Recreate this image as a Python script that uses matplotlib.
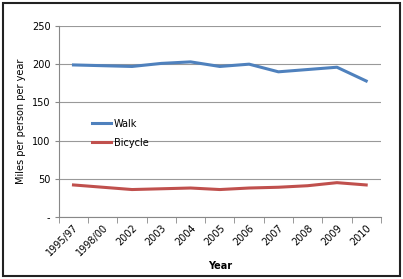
import matplotlib
matplotlib.use("Agg")
import matplotlib.pyplot as plt
from matplotlib.patches import Rectangle
from matplotlib.ticker import FixedLocator, NullFormatter

years = ["1995/97", "1998/00", "2002", "2003", "2004", "2005", "2006", "2007", "2008", "2009", "2010"]
walk = [199, 198, 197, 201, 203, 197, 200, 190, 193, 196, 178]
bicycle = [42, 39, 36, 37, 38, 36, 38, 39, 41, 45, 42]
yticks = [0, 50, 100, 150, 200, 250]
ytick_labels = ["-", "50", "100", "150", "200", "250"]

plt.rcParams['font.family'] = ['DejaVu Sans']
fig = plt.figure(figsize=(4.03, 2.79), dpi=100)
ax = fig.add_axes([0.146, 0.222, 0.799, 0.685])

x = list(range(len(years)))
ax.plot(x, walk, color="#4F81BD", lw=2.2, label="Walk")
ax.plot(x, bicycle, color="#C0504D", lw=2.2, label="Bicycle")

ax.set_xlim(-0.5, len(years) - 0.5)
ax.set_ylim(0, 250)
ax.set_yticks(yticks)
ax.set_yticklabels(ytick_labels, fontsize=7)
ax.set_xticks(x)
ax.set_xticklabels(years, rotation=45, ha="right", rotation_mode="anchor", fontsize=7)
ax.tick_params(axis="x", which="major", length=0, pad=4)
ax.xaxis.set_minor_locator(FixedLocator([i - 0.5 for i in range(len(years) + 1)]))
ax.xaxis.set_minor_formatter(NullFormatter())
ax.tick_params(axis="x", which="minor", length=4, color="#888888", direction="out")
ax.tick_params(axis="y", length=3, color="#888888", direction="out", pad=3)

ax.grid(axis="y", color="#999999", lw=0.8)
ax.set_axisbelow(True)
for s in ["top", "right"]:
    ax.spines[s].set_visible(False)
for s in ["left", "bottom"]:
    ax.spines[s].set_color("#888888")
    ax.spines[s].set_linewidth(0.8)

ax.set_ylabel("Miles per person per year", fontsize=7)
ax.set_xlabel("Year", fontsize=7, fontweight="bold", labelpad=2)

ax.legend(loc="upper left", bbox_to_anchor=(0.075, 0.56), frameon=False, fontsize=7,
          handlelength=2.0, handletextpad=0.3, labelspacing=0.9)

fig.patches.append(Rectangle((0.008, 0.01), 0.984, 0.98, transform=fig.transFigure,
                             fill=False, edgecolor="#222222", lw=1.5))

fig.savefig("out.png", dpi=100)
